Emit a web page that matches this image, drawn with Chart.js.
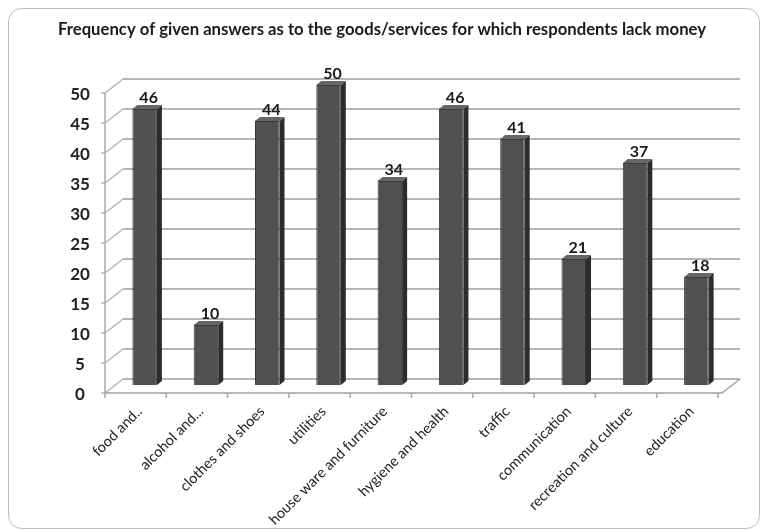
<!DOCTYPE html>
<html>
<head>
<meta charset="utf-8">
<script src="https://cdn.jsdelivr.net/npm/chart.js@4/dist/chart.umd.min.js"></script>
<style>
  html, body { margin: 0; padding: 0; background: #fff; }
  #wrap { width: 761px; height: 532px; }
</style>
</head>
<body>
<div id="wrap"><canvas id="chart" width="761" height="532"></canvas></div>
<script>
const title = 'Frequency of given answers as to the goods/services for which respondents lack money';
const categories = ['food and..', 'alcohol and...', 'clothes and shoes', 'utilities', 'house ware and furniture',
  'hygiene and health', 'traffic', 'communication', 'recreation and culture', 'education'];
const answers = [46, 10, 44, 50, 34, 46, 41, 21, 37, 18];
const yTicks = [0, 5, 10, 15, 20, 25, 30, 35, 40, 45, 50];

// 3d look: front plane sits down-left of the bars, back wall up-right
const FRONT = { dx: -9, dy: 8 };
const BACK = { dx: 9, dy: -6 };
const DEPTH = { dx: 5, dy: -4 };
const FONT = 'Lato, "Open Sans", sans-serif';

const frame = {
  id: 'frame',
  beforeDraw(chart) {
    const ctx = chart.ctx;
    ctx.save();
    ctx.fillStyle = '#fff';
    ctx.fillRect(0, 0, chart.width, chart.height);
    ctx.strokeStyle = '#bdbdbd';
    ctx.lineWidth = 1;
    ctx.beginPath();
    ctx.roundRect(8.5, 8.5, 751, 520, 13);
    ctx.stroke();

    // title, sized to the reference width
    let size = 14;
    ctx.font = 'bold ' + size + 'px ' + FONT;
    size = size * 649 / ctx.measureText(title).width;
    ctx.font = 'bold ' + size.toFixed(2) + 'px ' + FONT;
    ctx.fillStyle = '#1a1a1a';
    ctx.textAlign = 'center';
    ctx.textBaseline = 'middle';
    ctx.fillText(title, 382, 30);
    ctx.restore();
  },
  beforeDatasetsDraw(chart) {
    const ctx = chart.ctx;
    const y = chart.scales.y;
    const x = chart.scales.x;
    const area = chart.chartArea;
    const frontL = area.left + FRONT.dx;
    const backL = area.left + BACK.dx;
    const backR = area.right + 13;
    const frontR = backR - (BACK.dx - FRONT.dx);
    ctx.save();

    // back wall grid + left wall slants
    ctx.lineWidth = 1.5;
    yTicks.forEach(v => {
      const py = y.getPixelForValue(v);
      ctx.strokeStyle = '#9e9e9e';
      ctx.beginPath();
      ctx.moveTo(backL, py + BACK.dy);
      ctx.lineTo(backR, py + BACK.dy);
      ctx.stroke();
      ctx.strokeStyle = '#b4b4b4';
      ctx.beginPath();
      ctx.moveTo(frontL, py + FRONT.dy);
      ctx.lineTo(backL, py + BACK.dy);
      ctx.stroke();
      // small tick on the front axis
      ctx.beginPath();
      ctx.moveTo(frontL - 4, py + FRONT.dy);
      ctx.lineTo(frontL, py + FRONT.dy);
      ctx.stroke();
    });

    // front vertical axis
    ctx.strokeStyle = '#a8a8a8';
    ctx.beginPath();
    ctx.moveTo(frontL, y.getPixelForValue(0) + FRONT.dy);
    ctx.lineTo(frontL, y.getPixelForValue(50) + FRONT.dy);
    ctx.stroke();

    // floor front edge and right side
    const y0 = y.getPixelForValue(0);
    ctx.strokeStyle = '#a0a0a0';
    ctx.beginPath();
    ctx.moveTo(frontL, y0 + FRONT.dy);
    ctx.lineTo(frontR, y0 + FRONT.dy);
    ctx.lineTo(backR, y0 + BACK.dy);
    ctx.stroke();

    // category ticks on the front edge
    const step = (area.right - area.left) / categories.length;
    ctx.strokeStyle = '#a8a8a8';
    for (let i = 0; i <= categories.length; i++) {
      const px = area.left + i * step + FRONT.dx;
      ctx.beginPath();
      ctx.moveTo(px, y0 + FRONT.dy);
      ctx.lineTo(px, y0 + FRONT.dy + 5);
      ctx.stroke();
    }

    // y tick labels
    ctx.fillStyle = '#222';
    ctx.font = 'bold 17px ' + FONT;
    ctx.textAlign = 'center';
    ctx.textBaseline = 'middle';
    yTicks.forEach(v => {
      ctx.fillText(String(v), 80, y.getPixelForValue(v) + FRONT.dy + 2);
    });

    // category labels, rotated 45deg
    ctx.fillStyle = '#222';
    ctx.font = '14.5px ' + FONT;
    ctx.textAlign = 'right';
    ctx.textBaseline = 'middle';
    categories.forEach((c, i) => {
      const px = x.getPixelForValue(i) + FRONT.dx + 4;
      ctx.save();
      ctx.translate(px, y0 + 24);
      ctx.rotate(-Math.PI / 4);
      ctx.fillText(c, 0, 0);
      ctx.restore();
    });
    ctx.restore();
  },
  afterDatasetsDraw(chart) {
    const ctx = chart.ctx;
    const meta = chart.getDatasetMeta(0);
    ctx.save();
    meta.data.forEach((bar, i) => {
      const half = bar.width / 2;
      const l = bar.x - half, r = bar.x + half;
      const top = bar.y, base = bar.base;
      // side face
      ctx.fillStyle = '#2c2c2c';
      ctx.beginPath();
      ctx.moveTo(r, top);
      ctx.lineTo(r + DEPTH.dx, top + DEPTH.dy);
      ctx.lineTo(r + DEPTH.dx, base + DEPTH.dy);
      ctx.lineTo(r, base);
      ctx.closePath();
      ctx.fill();
      // top face
      ctx.fillStyle = '#666';
      ctx.beginPath();
      ctx.moveTo(l, top);
      ctx.lineTo(l + DEPTH.dx, top + DEPTH.dy);
      ctx.lineTo(r + DEPTH.dx, top + DEPTH.dy);
      ctx.lineTo(r, top);
      ctx.closePath();
      ctx.fill();
      // value label
      ctx.fillStyle = '#1a1a1a';
      ctx.font = 'bold 16px ' + FONT;
      ctx.textAlign = 'center';
      ctx.textBaseline = 'alphabetic';
      ctx.fillText(String(answers[i]), bar.x + 4, top - 6);
    });
    ctx.restore();
  }
};

new Chart(document.getElementById('chart'), {
  type: 'bar',
  data: {
    labels: categories,
    datasets: [{
      data: answers,
      backgroundColor: '#505050',
      borderColor: '#3a3a3a',
      borderWidth: 1,
      barPercentage: 0.4,
      categoryPercentage: 1
    }]
  },
  options: {
    responsive: false,
    animation: false,
    layout: { padding: { left: 114, right: 34, top: 85, bottom: 147 } },
    plugins: {
      legend: { display: false },
      tooltip: { enabled: false },
      title: { display: false }
    },
    scales: {
      x: { display: false },
      y: { display: false, min: 0, max: 50 }
    }
  },
  plugins: [frame]
});
</script>
</body>
</html>
